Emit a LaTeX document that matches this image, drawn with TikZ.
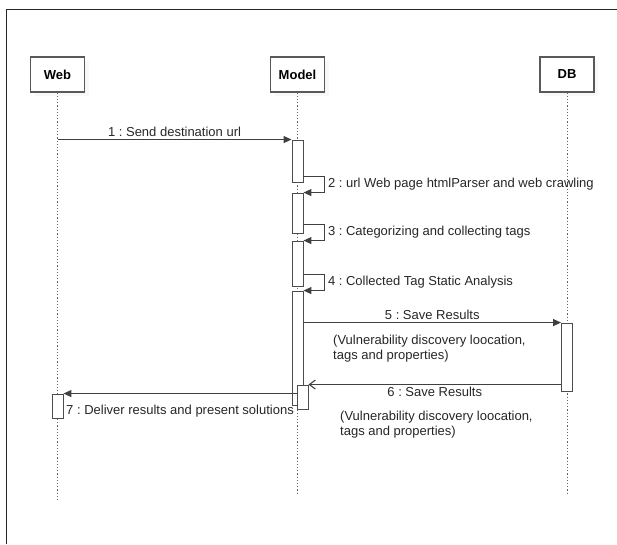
\documentclass[tikz,border=0pt]{standalone}
\usepackage{fontspec}
\setmainfont{Liberation Sans}
\usepackage{tikz}
\usetikzlibrary{arrows.meta,positioning,calc,shadows}
\frenchspacing

\begin{document}
\begin{tikzpicture}[x=1pt,y=-1pt,
  head/.style={draw=black!65, line width=1.2pt, fill=white, minimum width=54pt, minimum height=35pt, inner sep=0pt,
    font=\bfseries\fontsize{13}{15}\selectfont, drop shadow={shadow xshift=4pt, shadow yshift=-4pt, opacity=0.06}},
  life/.style={draw=black!60, line width=0.9pt, dash pattern=on 1.2pt off 2pt},
  act/.style={draw=black!70, fill=white, line width=0.9pt, minimum width=11pt, inner sep=0pt},
  msg/.style={draw=black!75, line width=1.1pt, -{Triangle[length=8pt,width=7pt]}},
  ret/.style={draw=black!75, line width=1.1pt, -{Straight Barb[length=6pt,width=9pt]}},
  lbl/.style={text=black!85, font=\fontsize{13}{14.5}\selectfont, inner sep=2pt},
  note/.style={lbl, align=left, inner sep=0pt}]
\useasboundingbox (0,0) rectangle (617,544);
\draw[line width=1.4pt, black!85] (6.5,544) -- (6.5,9.5) -- (617,9.5);

% lifelines
\foreach \n/\x/\e in {web/57.5/502,model/297.5/495,db/567/495} {
  \node[head] (\n) at (\x,74.5) {};
  \coordinate (\n end) at (\x,\e);
  \draw[life] (\n) -- (\n end);
}
\node[font=\bfseries\fontsize{13}{15}\selectfont] at (web) {Web};
\node[font=\bfseries\fontsize{13}{15}\selectfont] at (model) {Model};
\node[font=\bfseries\fontsize{13}{15}\selectfont] at (db) {DB};

% activations
\foreach \n/\x/\y/\h in {a1/297.5/161/42,a2/297.5/213/40,a3/297.5/263.5/45,a4/297.5/348/114,
    a5/302.5/397/24,d1/567/357/68,w1/57.5/406/24}
  \node[act, minimum height=\h pt] (\n) at (\x,\y) {};

% messages
\draw[msg] (web |- a1.north west) -- node[lbl, above] (m1) {1 : Send destination url} (a1.north west);
\draw[msg] ([yshift=6pt]a1.south east) -- ++(21,0) |- node[lbl, right, pos=0.25, xshift=1pt] (m2) {2 : url Web page htmlParser and web crawling} (a2.north east);
\draw[msg] ([yshift=9pt]a2.south east) -- ++(21,0) |- node[lbl, right, pos=0.25, xshift=1pt] (m3) {3 : Categorizing and collecting tags} (a3.north east);
\draw[msg] ([yshift=12pt]a3.south east) -- ++(21,0) |- node[lbl, right, pos=0.25, xshift=1pt] (m4) {4 : Collected Tag Static Analysis} (a4.north east);
\draw[msg] (a4.east |- d1.north west) -- node[lbl, above] (m5) {5 : Save Results} (d1.north west);
\node[note, anchor=north west] (n5) at (333,335) {(Vulnerability discovery loocation,\\tags and properties)};
\draw[ret] (d1.west |- a5.north east) -- node[lbl, below] (m6) {6 : Save Results} (a5.north east);
\node[note, anchor=north west] (n6) at (340,411) {(Vulnerability discovery loocation,\\tags and properties)};
\draw[msg] (a5.west |- w1.north east) -- (w1.north east);
\node[lbl, anchor=west] (m7) at (64,411) {7 : Deliver results and present solutions};
\end{tikzpicture}
\end{document}
